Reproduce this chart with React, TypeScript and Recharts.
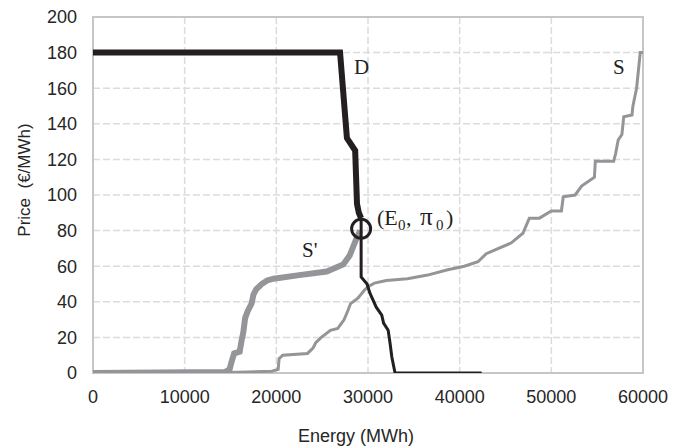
import {
  LineChart,
  Line,
  XAxis,
  YAxis,
  CartesianGrid,
  ReferenceArea,
  ReferenceDot
} from 'recharts';

type Pt = [number, number];

// demand curve D: thick part above the clearing point, thin part below
const demandUpper: Pt[] = [
  [0, 180], [26950, 180], [27700, 132], [28600, 125], [28700, 110],
  [28800, 95], [29000, 90], [29250, 87]
];
const demandLower: Pt[] = [
  [29250, 87], [29250, 54], [29900, 50], [30200, 45], [30900, 37],
  [31500, 32.5], [31700, 28], [32200, 24], [32400, 17], [32600, 9],
  [32950, 0], [42400, 0]
];

// reduced supply curve S' (thick)
const supplyReduced: Pt[] = [
  [0, 0], [14400, 0.5], [14900, 2], [15100, 6], [15400, 11], [16000, 12],
  [16200, 18], [16400, 23], [16600, 31], [16900, 35], [17300, 39],
  [17500, 44], [17800, 47], [18400, 50], [19000, 52], [19700, 53],
  [22500, 55], [25500, 57], [27300, 61], [28000, 66], [28700, 75],
  [29150, 80]
];

// full supply curve S (thin)
const supplyFull: Pt[] = [
  [0, 0], [14700, 0.3], [19500, 1], [20200, 2], [20300, 8], [20700, 10],
  [23400, 11], [24000, 14], [24300, 17], [24900, 20], [25400, 22],
  [25900, 24], [26700, 25], [27400, 30], [27800, 35], [28100, 39],
  [28900, 42], [29600, 46.5], [30000, 48.5], [30700, 50.5], [32000, 52],
  [34300, 53], [36500, 55], [38700, 58], [40500, 60], [42000, 62.5],
  [42900, 67], [43800, 69], [45600, 73], [46900, 78.5], [47600, 87],
  [48700, 87], [50000, 91], [51100, 91], [51300, 99], [52600, 100],
  [53300, 105], [54700, 110], [54800, 119], [56800, 119], [57000, 123],
  [57300, 131], [57700, 134], [57900, 144], [58800, 145], [58900, 150],
  [59300, 160], [59700, 180], [60000, 180]
];

const xTicks = [0, 10000, 20000, 30000, 40000, 50000, 60000];
const yTicks = [0, 20, 40, 60, 80, 100, 120, 140, 160, 180, 200];

// clearing point and annotation anchors (data coordinates)
const clearing = { x: 29250, y: 81 };
const labelD = { x: 28480, y: 168 };
const labelS = { x: 56730, y: 168 };
const labelSPrime = { x: 22800, y: 65 };
const labelClearing = { x: 30980, y: 83 };

const toRows = (pts: Pt[]) => pts.map(([x, y]) => ({ x, y }));

const BLACK = '#231f20';
const GRAY = '#939598';
const SANS = '"Liberation Sans", Arial, sans-serif';
const SERIF = '"Liberation Serif", "Times New Roman", serif';

const textShape = (txt: string) => (p: any) => (
  <text x={p.cx} y={p.cy} fontFamily={SERIF} fontSize={21} fill={BLACK}>
    {txt}
  </text>
);

const clearingShape = (p: any) => {
  const x = p.cx;
  const y = p.cy;
  return (
    <text y={y} fontFamily={SERIF} fontSize={22} fill={BLACK}>
      <tspan x={x}>(E</tspan>
      <tspan x={x + 21} dy={5} fontSize={15}>0</tspan>
      <tspan x={x + 29} dy={-5}>,</tspan>
      <tspan x={x + 43} fontSize={25}>π</tspan>
      <tspan x={x + 59} dy={5} fontSize={15}>0</tspan>
      <tspan x={x + 69} dy={-5}>)</tspan>
    </text>
  );
};

const App = () => {
  return (
    <div style={{ position: 'absolute', left: 0, top: 0, width: 683, height: 447, background: '#fff' }}>
      <LineChart
        width={683}
        height={447}
        margin={{ top: 17, right: 40, left: 0, bottom: 0 }}
      >
        <CartesianGrid strokeDasharray="7 3" stroke="#dcdcdc" strokeWidth={1.5} />
        <ReferenceArea
          x1={0}
          x2={60000}
          y1={0}
          y2={200}
          fill="none"
          stroke="#c6c6c6"
          strokeWidth={2}
          ifOverflow="visible"
        />
        <XAxis
          type="number"
          dataKey="x"
          domain={[0, 60000]}
          ticks={xTicks}
          allowDataOverflow
          height={74}
          axisLine={false}
          tickLine={false}
          tickMargin={11}
          tick={{ fill: '#262626', fontSize: 18, fontFamily: SANS }}
          label={{
            content: () => (
              <text x={356} y={442} textAnchor="middle" fontFamily={SANS} fontSize={18} fill="#262626">
                Energy (MWh)
              </text>
            )
          }}
        />
        <YAxis
          type="number"
          dataKey="y"
          domain={[0, 200]}
          ticks={yTicks}
          allowDataOverflow
          width={93}
          axisLine={false}
          tickLine={false}
          tickMargin={10}
          tick={{ fill: '#262626', fontSize: 18, fontFamily: SANS }}
          label={{
            content: () => (
              <text
                x={24}
                y={180}
                transform="rotate(-90 24 180)"
                textAnchor="middle"
                dominantBaseline="central"
                fontFamily={SANS}
                fontSize={17}
                fill="#262626"
              >
                {'Price\u00a0\u00a0(€/MWh)'}
              </text>
            )
          }}
        />
        <Line
          data={toRows(supplyFull)}
          dataKey="y"
          type="linear"
          stroke={GRAY}
          strokeWidth={3}
          dot={false}
          isAnimationActive={false}
        />
        <Line
          data={toRows(supplyReduced)}
          dataKey="y"
          type="linear"
          stroke={GRAY}
          strokeWidth={6}
          dot={false}
          isAnimationActive={false}
        />
        <Line
          data={toRows(demandLower)}
          dataKey="y"
          type="linear"
          stroke={BLACK}
          strokeWidth={3}
          dot={false}
          isAnimationActive={false}
        />
        <Line
          data={toRows(demandUpper)}
          dataKey="y"
          type="linear"
          stroke={BLACK}
          strokeWidth={6}
          dot={false}
          isAnimationActive={false}
        />
        <ReferenceDot
          x={clearing.x}
          y={clearing.y}
          r={9.5}
          fill="none"
          stroke={BLACK}
          strokeWidth={3}
        />
        <ReferenceDot x={labelD.x} y={labelD.y} r={1} shape={textShape('D')} />
        <ReferenceDot x={labelS.x} y={labelS.y} r={1} shape={textShape('S')} />
        <ReferenceDot x={labelSPrime.x} y={labelSPrime.y} r={1} shape={textShape("S'")} />
        <ReferenceDot x={labelClearing.x} y={labelClearing.y} r={1} shape={clearingShape} />
      </LineChart>
    </div>
  );
};

export default App;
